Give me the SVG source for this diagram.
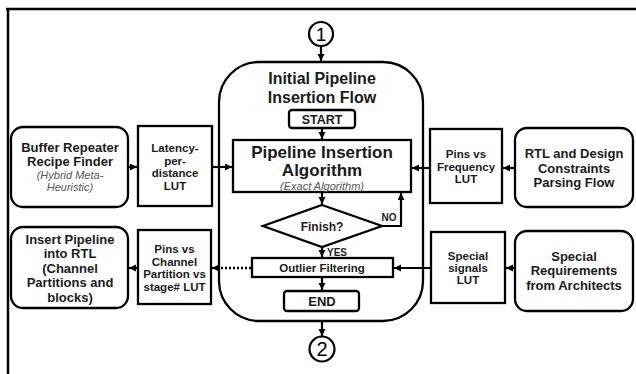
<svg xmlns="http://www.w3.org/2000/svg" width="636" height="374" viewBox="0 0 636 374">
<defs>
<style>
.box{fill:#fff;stroke:#000;stroke-width:2.3}
.ln{fill:none;stroke:#000;stroke-width:2.2}
.dot{fill:none;stroke:#000;stroke-width:2.5;stroke-dasharray:2 2}
.b{font-family:"Liberation Sans",Arial,sans-serif;font-weight:bold;fill:#1a1a1a;text-anchor:middle}
.it{font-family:"Liberation Sans",Arial,sans-serif;font-style:italic;fill:#555;text-anchor:middle}
.n{font-family:"Liberation Sans",Arial,sans-serif;fill:#000;text-anchor:middle}
</style>
<marker id="ah" markerUnits="userSpaceOnUse" markerWidth="8" markerHeight="8" refX="7" refY="3.5" orient="auto">
<path d="M0,0 L7,3.5 L0,7 z" fill="#000"/>
</marker>
</defs>
<rect width="636" height="374" fill="#fff"/>
<g id="frame">
<path d="M6,9 H636 M8,8 V374" fill="none" stroke="#000" stroke-width="2.5"/>
</g>
<g id="flow">
<rect class="box" x="219" y="62" width="204" height="259" rx="40"/>
<text class="b" x="322" y="84" font-size="16">Initial Pipeline</text>
<text class="b" x="322" y="103" font-size="16">Insertion Flow</text>
</g>
<g id="c1">
<circle cx="321" cy="34" r="12" fill="#fff" stroke="#000" stroke-width="2.2"/>
<text class="n" x="321" y="41" font-size="19">1</text>
</g>
<g id="c2">
<circle cx="322" cy="349" r="12.5" fill="#fff" stroke="#000" stroke-width="2.2"/>
<text class="n" x="322" y="356" font-size="20">2</text>
</g>
<g id="start">
<rect class="box" x="289" y="110" width="66" height="18" rx="3"/>
<text class="b" x="322" y="123.5" font-size="12.5">START</text>
</g>
<g id="algo">
<rect class="box" x="233" y="140" width="178" height="52"/>
<text class="b" x="322" y="158" font-size="17">Pipeline Insertion</text>
<text class="b" x="322" y="175.5" font-size="17">Algorithm</text>
<text class="it" x="322" y="189.5" font-size="11">(Exact Algorithm)</text>
</g>
<g id="finish">
<polygon class="box" points="322,205 382,226 322,247 263,226"/>
<text class="b" x="322" y="231" font-size="12">Finish?</text>
</g>
<g id="outlier">
<rect class="box" x="252" y="258" width="141" height="19"/>
<text class="b" x="322" y="272" font-size="11.5">Outlier Filtering</text>
</g>
<g id="end">
<rect class="box" x="284" y="291" width="75" height="20" rx="3"/>
<text class="b" x="322" y="306" font-size="13">END</text>
</g>
<g id="buffer">
<rect class="box" x="11" y="127" width="117" height="80" rx="12"/>
<text class="b" x="70" y="152" font-size="13">Buffer Repeater</text>
<text class="b" x="70" y="166" font-size="13">Recipe Finder</text>
<text class="it" x="70" y="179" font-size="11">(Hybrid Meta-</text>
<text class="it" x="70" y="191" font-size="11">Heuristic)</text>
</g>
<g id="latency">
<rect class="box" x="138" y="126" width="74" height="80"/>
<text class="b" x="175" y="152" font-size="11.5">Latency-</text>
<text class="b" x="175" y="164.5" font-size="11.5">per-</text>
<text class="b" x="175" y="177" font-size="11.5">distance</text>
<text class="b" x="175" y="190" font-size="11.5">LUT</text>
</g>
<g id="pinsfreq">
<rect class="box" x="430" y="129" width="72" height="74"/>
<text class="b" x="466" y="158" font-size="11.5">Pins vs</text>
<text class="b" x="466" y="170.5" font-size="11.5">Frequency</text>
<text class="b" x="466" y="183" font-size="11.5">LUT</text>
</g>
<g id="rtl">
<rect class="box" x="515" y="128" width="118" height="79" rx="12"/>
<text class="b" x="574" y="158" font-size="13">RTL and Design</text>
<text class="b" x="574" y="172.5" font-size="13">Constraints</text>
<text class="b" x="574" y="187" font-size="13">Parsing Flow</text>
</g>
<g id="insert">
<rect class="box" x="11" y="227" width="117" height="81" rx="12"/>
<text class="b" x="70" y="243.5" font-size="13">Insert Pipeline</text>
<text class="b" x="70" y="258" font-size="13">into RTL</text>
<text class="b" x="70" y="272.5" font-size="13">(Channel</text>
<text class="b" x="70" y="287" font-size="13">Partitions and</text>
<text class="b" x="70" y="301.5" font-size="13">blocks)</text>
</g>
<g id="pinschan">
<rect class="box" x="138" y="230" width="73" height="74"/>
<text class="b" x="174.5" y="253" font-size="11.5">Pins vs</text>
<text class="b" x="174.5" y="265.5" font-size="11.5">Channel</text>
<text class="b" x="174.5" y="278" font-size="11.5">Partition vs</text>
<text class="b" x="174.5" y="290.5" font-size="11.5">stage# LUT</text>
</g>
<g id="special">
<rect class="box" x="431" y="232" width="74" height="71"/>
<text class="b" x="468" y="260" font-size="11.5">Special</text>
<text class="b" x="468" y="272" font-size="11.5">signals</text>
<text class="b" x="468" y="284" font-size="11.5">LUT</text>
</g>
<g id="reqs">
<rect class="box" x="515" y="231" width="118" height="80" rx="12"/>
<text class="b" x="574" y="260.5" font-size="13">Special</text>
<text class="b" x="574" y="275" font-size="13">Requirements</text>
<text class="b" x="574" y="289.5" font-size="13">from Architects</text>
</g>
<g id="connectors">
<path class="ln" d="M321,46 V61" marker-end="url(#ah)"/>
<path class="ln" d="M322,128 V139" marker-end="url(#ah)"/>
<path class="ln" d="M322,192 V204" marker-end="url(#ah)"/>
<path class="ln" d="M382,226 H401 V193" marker-end="url(#ah)"/>
<path class="ln" d="M322,247 V257" marker-end="url(#ah)"/>
<path class="ln" d="M322,277 V290" marker-end="url(#ah)"/>
<path class="ln" d="M322,321 V336" marker-end="url(#ah)"/>
<path class="ln" d="M128,167 H137" marker-end="url(#ah)"/>
<path class="ln" d="M212,167 H232" marker-end="url(#ah)"/>
<path class="ln" d="M515,168 H503" marker-end="url(#ah)"/>
<path class="ln" d="M430,168 H412" marker-end="url(#ah)"/>
<path class="dot" d="M251,268 H219"/>
<path class="ln" d="M220,268 H212" marker-end="url(#ah)"/>
<path class="ln" d="M138,268 H129" marker-end="url(#ah)"/>
<path class="ln" d="M515,268 H506" marker-end="url(#ah)"/>
<path class="ln" d="M431,268 H394" marker-end="url(#ah)"/>
<text class="b" x="389" y="221" font-size="10">NO</text>
<text class="b" x="337" y="256" font-size="10">YES</text>
</g>
</svg>
